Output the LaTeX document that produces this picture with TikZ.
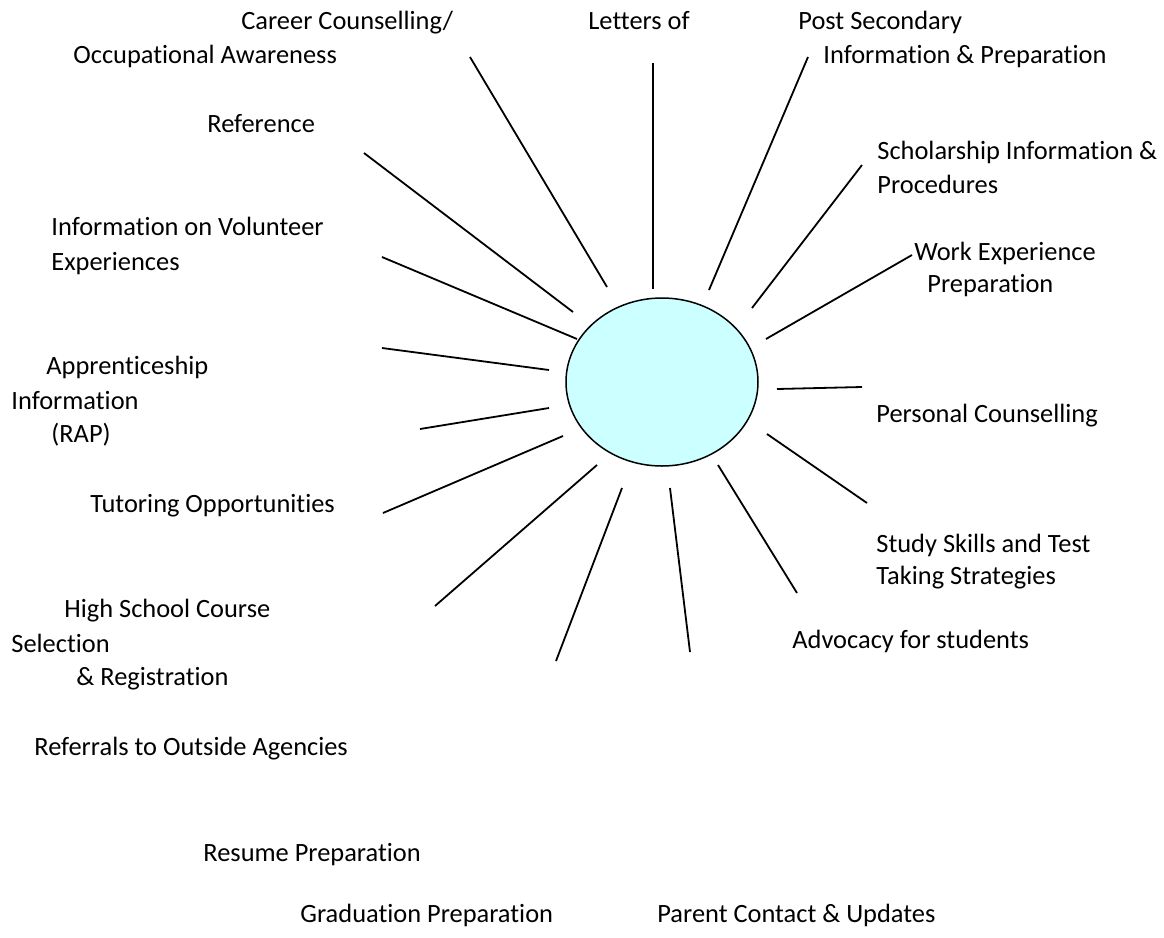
\documentclass[tikz,border=0pt]{standalone}
\usepackage{fontspec}
\setmainfont{Carlito}[Ligatures=NoCommon]
\usepackage{xcolor}
\usepackage{tikz}
\usetikzlibrary{shapes.geometric, backgrounds}
\definecolor{hubfill}{RGB}{204,255,255}

\begin{document}
\begin{tikzpicture}[x=0.5pt, y=-0.5pt, background rectangle/.style={fill=white}, show background rectangle]
\useasboundingbox (0,0) rectangle (1164,938);
\node[ellipse, draw=black, line width=0.75pt, fill=hubfill, inner sep=0pt,
      minimum width=96pt, minimum height=84pt] (hub) at (662,382) {};

\begin{scope}[every node/.style={anchor=base west, inner sep=0pt,
              font=\fontsize{13.2pt}{16pt}\selectfont}]
  \node (career1) at (241,29) {Career Counselling/};
  \node (career2) at (73,63) {Occupational Awareness};
  \node (letters) at (588,29) {Letters of};
  \node (post1) at (798,29) {Post Secondary};
  \node (post2) at (823,63) {Information \& Preparation};
  \node (reference) at (207,132) {Reference};
  \node (scholar1) at (877,159) {Scholarship Information \&};
  \node (scholar2) at (877,193) {Procedures};
  \node (volunteer1) at (51,235) {Information on Volunteer};
  \node (volunteer2) at (51,270) {Experiences};
  \node (work1) at (914,260) {Work Experience};
  \node (work2) at (927,292) {Preparation};
  \node (appr1) at (46,374) {Apprenticeship};
  \node (appr2) at (11,409) {Information};
  \node (appr3) at (51,442) {(RAP)};
  \node (personal) at (876,422) {Personal Counselling};
  \node (tutor) at (90,512) {Tutoring Opportunities};
  \node (study1) at (876,552) {Study Skills and Test};
  \node (study2) at (876,584) {Taking Strategies};
  \node (course1) at (64,617) {High School Course};
  \node (course2) at (11,652) {Selection};
  \node (course3) at (76,685) {\& Registration};
  \node (advocacy) at (792,648) {Advocacy for students};
  \node (referrals) at (34,755) {Referrals to Outside Agencies};
  \node (resume) at (203,861) {Resume Preparation};
  \node (graduation) at (300,922) {Graduation Preparation};
  \node (parent) at (657,922) {Parent Contact \& Updates};
\end{scope}

% spoke ends: o = outer, i = inner
\coordinate (s1o) at (470,57);   \coordinate (s1i) at (607,287);
\coordinate (s2o) at (653,63);   \coordinate (s2i) at (653,289);
\coordinate (s3o) at (808,57);   \coordinate (s3i) at (709,290);
\coordinate (s4o) at (862,165);  \coordinate (s4i) at (752,308);
\coordinate (s5o) at (912,255);  \coordinate (s5i) at (766,339);
\coordinate (s6o) at (862,387);  \coordinate (s6i) at (777,389);
\coordinate (s7o) at (867,503);  \coordinate (s7i) at (767,434);
\coordinate (s8o) at (797,593);  \coordinate (s8i) at (718,465);
\coordinate (s9o) at (690,652);  \coordinate (s9i) at (670,488);
\coordinate (s10o) at (556,661); \coordinate (s10i) at (622,488);
\coordinate (s11o) at (435,606); \coordinate (s11i) at (597,465);
\coordinate (s12o) at (383,513); \coordinate (s12i) at (563,436);
\coordinate (s13o) at (420,429); \coordinate (s13i) at (549,408);
\coordinate (s14o) at (382,348); \coordinate (s14i) at (549,370);
\coordinate (s15o) at (382,257); \coordinate (s15i) at (577,339);
\coordinate (s16o) at (364,153); \coordinate (s16i) at (573,312);

\begin{scope}[every edge/.style={draw=black, line width=0.9pt}]
  \path (s1o) edge (s1i);
  \path (s2o) edge (s2i);
  \path (s3o) edge (s3i);
  \path (s4o) edge (s4i);
  \path (s5o) edge (s5i);
  \path (s6o) edge (s6i);
  \path (s7o) edge (s7i);
  \path (s8o) edge (s8i);
  \path (s9o) edge (s9i);
  \path (s10o) edge (s10i);
  \path (s11o) edge (s11i);
  \path (s12o) edge (s12i);
  \path (s13o) edge (s13i);
  \path (s14o) edge (s14i);
  \path (s15o) edge (s15i);
  \path (s16o) edge (s16i);
\end{scope}

\end{tikzpicture}
\end{document}
